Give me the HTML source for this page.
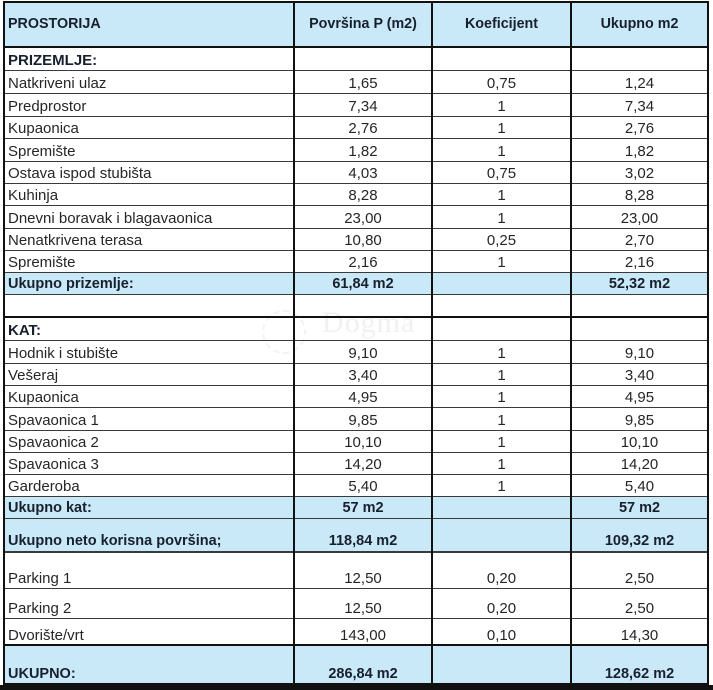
<!DOCTYPE html>
<html>
<head>
<meta charset="utf-8">
<style>
  html,body{margin:0;padding:0;background:#fff;}
  body{width:713px;height:690px;position:relative;overflow:hidden;font-family:"Liberation Sans",Arial,sans-serif;}
  .bg{position:absolute;left:4px;width:705px;background:#c9e8f8;}
  .h{position:absolute;left:4px;width:705px;background:#3a3a3a;height:1px;}
  .H{position:absolute;left:4px;width:705px;background:#111;height:2px;}
  .v{position:absolute;top:1px;width:2px;height:684px;background:#111;}
  .r{position:absolute;left:0;width:713px;}
  .r div{position:absolute;top:0;height:100%;display:flex;align-items:flex-end;justify-content:center;box-sizing:border-box;padding-bottom:2px;line-height:15px;font-size:15px;color:#262626;white-space:nowrap;}
  .r .c1{left:4px;width:290px;justify-content:flex-start;padding-left:4px;}
  .r .c2{left:294px;width:138px;}
  .r .c3{left:432px;width:139px;}
  .r .c4{left:571px;width:137px;}
  .b div{font-weight:bold;font-size:14.5px;color:#18202d;}
  .hd div{align-items:center;padding-bottom:0;font-weight:bold;font-size:14.3px;color:#18202d;}
  .wm{position:absolute;left:322px;top:306px;font-family:"Liberation Serif",serif;font-size:30px;color:rgba(200,200,200,0.25);letter-spacing:1px;}
  .wm2{position:absolute;left:262px;top:310px;width:40px;height:40px;border-radius:50%;border:2px dashed rgba(200,200,200,0.22);}
</style>
</head>
<body>
<div class="bg" style="top:2px;height:45px;"></div>
<div class="bg" style="top:272px;height:22px;"></div>
<div class="bg" style="top:496px;height:55px;"></div>
<div class="bg" style="top:645px;height:39px;"></div>

<div class="wm2"></div>
<div class="wm">Dogma</div>

<div class="H" style="top:1px;"></div>
<div class="H" style="top:46px;"></div>
<div class="h" style="top:70px;"></div>
<div class="h" style="top:93px;"></div>
<div class="h" style="top:116px;"></div>
<div class="h" style="top:138px;"></div>
<div class="h" style="top:161px;"></div>
<div class="h" style="top:183px;"></div>
<div class="h" style="top:205px;"></div>
<div class="h" style="top:228px;"></div>
<div class="h" style="top:250px;"></div>
<div class="h" style="top:272px;"></div>
<div class="h" style="top:294px;"></div>
<div class="H" style="top:316px;"></div>
<div class="h" style="top:340px;"></div>
<div class="h" style="top:363px;"></div>
<div class="h" style="top:385px;"></div>
<div class="h" style="top:407px;"></div>
<div class="h" style="top:430px;"></div>
<div class="h" style="top:452px;"></div>
<div class="h" style="top:474px;"></div>
<div class="h" style="top:496px;"></div>
<div class="h" style="top:518px;"></div>
<div class="h" style="top:551px;height:1.5px;"></div>
<div class="h" style="top:588px;"></div>
<div class="h" style="top:618px;"></div>
<div class="H" style="top:644px;"></div>
<div class="H" style="top:683px;"></div>

<div class="v" style="left:3px;"></div>
<div class="v" style="left:293px;"></div>
<div class="v" style="left:431px;"></div>
<div class="v" style="left:570px;"></div>
<div class="v" style="left:707px;"></div>

<div style="position:absolute;left:0;top:685px;width:713px;height:5px;background:#111;"></div>

<div class="r hd" style="top:2px;height:45px;"><div class="c1">PROSTORIJA</div><div class="c2">Površina P (m2)</div><div class="c3">Koeficijent</div><div class="c4">Ukupno m2</div></div>

<div class="r b" style="top:47px;height:23px;"><div class="c1" style="font-size:15px;">PRIZEMLJE:</div></div>
<div class="r" style="top:70px;height:23px;"><div class="c1">Natkriveni ulaz</div><div class="c2">1,65</div><div class="c3">0,75</div><div class="c4">1,24</div></div>
<div class="r" style="top:93px;height:23px;"><div class="c1">Predprostor</div><div class="c2">7,34</div><div class="c3">1</div><div class="c4">7,34</div></div>
<div class="r" style="top:116px;height:22px;"><div class="c1">Kupaonica</div><div class="c2">2,76</div><div class="c3">1</div><div class="c4">2,76</div></div>
<div class="r" style="top:138px;height:23px;"><div class="c1">Spremište</div><div class="c2">1,82</div><div class="c3">1</div><div class="c4">1,82</div></div>
<div class="r" style="top:161px;height:22px;"><div class="c1">Ostava ispod stubišta</div><div class="c2">4,03</div><div class="c3">0,75</div><div class="c4">3,02</div></div>
<div class="r" style="top:183px;height:22px;"><div class="c1">Kuhinja</div><div class="c2">8,28</div><div class="c3">1</div><div class="c4">8,28</div></div>
<div class="r" style="top:205px;height:23px;"><div class="c1">Dnevni boravak i blagavaonica</div><div class="c2">23,00</div><div class="c3">1</div><div class="c4">23,00</div></div>
<div class="r" style="top:228px;height:22px;"><div class="c1">Nenatkrivena terasa</div><div class="c2">10,80</div><div class="c3">0,25</div><div class="c4">2,70</div></div>
<div class="r" style="top:250px;height:22px;"><div class="c1">Spremište</div><div class="c2">2,16</div><div class="c3">1</div><div class="c4">2,16</div></div>
<div class="r b" style="top:272px;height:22px;"><div class="c1">Ukupno prizemlje:</div><div class="c2">61,84 m2</div><div class="c4">52,32 m2</div></div>

<div class="r b" style="top:317px;height:23px;"><div class="c1" style="font-size:15px;">KAT:</div></div>
<div class="r" style="top:340px;height:23px;"><div class="c1">Hodnik i stubište</div><div class="c2">9,10</div><div class="c3">1</div><div class="c4">9,10</div></div>
<div class="r" style="top:363px;height:22px;"><div class="c1">Vešeraj</div><div class="c2">3,40</div><div class="c3">1</div><div class="c4">3,40</div></div>
<div class="r" style="top:385px;height:22px;"><div class="c1">Kupaonica</div><div class="c2">4,95</div><div class="c3">1</div><div class="c4">4,95</div></div>
<div class="r" style="top:407px;height:23px;"><div class="c1">Spavaonica 1</div><div class="c2">9,85</div><div class="c3">1</div><div class="c4">9,85</div></div>
<div class="r" style="top:430px;height:22px;"><div class="c1">Spavaonica 2</div><div class="c2">10,10</div><div class="c3">1</div><div class="c4">10,10</div></div>
<div class="r" style="top:452px;height:22px;"><div class="c1">Spavaonica 3</div><div class="c2">14,20</div><div class="c3">1</div><div class="c4">14,20</div></div>
<div class="r" style="top:474px;height:22px;"><div class="c1">Garderoba</div><div class="c2">5,40</div><div class="c3">1</div><div class="c4">5,40</div></div>
<div class="r b" style="top:496px;height:22px;"><div class="c1">Ukupno kat:</div><div class="c2">57 m2</div><div class="c4">57 m2</div></div>
<div class="r b" style="top:518px;height:33px;"><div class="c1">Ukupno neto korisna površina;</div><div class="c2">118,84 m2</div><div class="c4">109,32 m2</div></div>
<div class="r" style="top:551px;height:37px;"><div class="c1">Parking 1</div><div class="c2">12,50</div><div class="c3">0,20</div><div class="c4">2,50</div></div>
<div class="r" style="top:588px;height:30px;"><div class="c1">Parking 2</div><div class="c2">12,50</div><div class="c3">0,20</div><div class="c4">2,50</div></div>
<div class="r" style="top:618px;height:27px;"><div class="c1">Dvorište/vrt</div><div class="c2">143,00</div><div class="c3">0,10</div><div class="c4">14,30</div></div>
<div class="r b" style="top:645px;height:39px;"><div class="c1">UKUPNO:</div><div class="c2">286,84 m2</div><div class="c4">128,62 m2</div></div>
</body>
</html>
